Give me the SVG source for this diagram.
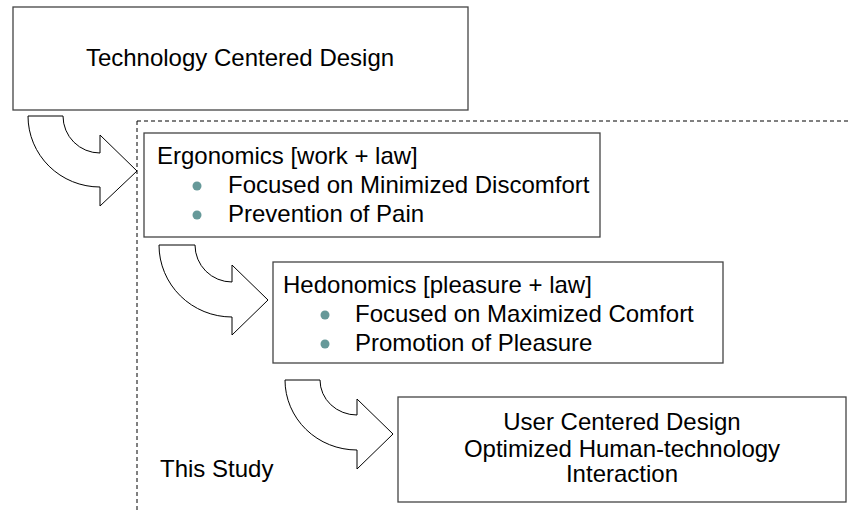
<svg xmlns="http://www.w3.org/2000/svg" width="851" height="512" viewBox="0 0 851 512">
<style>
.box{fill:#fff;stroke:#444;stroke-width:1.3}
.arr{fill:#fff;stroke:#000;stroke-width:1}
.t{font-family:"Liberation Sans",Arial,sans-serif;font-size:24px;fill:#000}
.c{text-anchor:middle}
.dot{fill:#669999}
.dash{fill:none;stroke:#000;stroke-width:1;stroke-dasharray:4 3}
</style>
<rect width="851" height="512" fill="#fff"/>
<g id="study-frame">
<path class="dash" d="M137,121 H851 M137,121 V512"/>
<text class="t" x="160" y="477">This Study</text>
</g>
<g id="tcd">
<rect class="box" x="13" y="7" width="455" height="103"/>
<text class="t c" x="240" y="66">Technology Centered Design</text>
</g>
<g id="ergonomics">
<rect class="box" x="144" y="133" width="456" height="104"/>
<text class="t" x="157" y="164">Ergonomics [work + law]</text>
<circle class="dot" cx="197" cy="186" r="4.5"/>
<text class="t" x="228" y="193">Focused on Minimized Discomfort</text>
<circle class="dot" cx="197" cy="215" r="4.5"/>
<text class="t" x="228" y="222">Prevention of Pain</text>
</g>
<g id="hedonomics">
<rect class="box" x="273" y="262" width="450" height="101"/>
<text class="t" x="283" y="293">Hedonomics [pleasure + law]</text>
<circle class="dot" cx="325" cy="315" r="4.5"/>
<text class="t" x="355" y="322">Focused on Maximized Comfort</text>
<circle class="dot" cx="325" cy="344" r="4.5"/>
<text class="t" x="355" y="351">Promotion of Pleasure</text>
</g>
<g id="ucd">
<rect class="box" x="398" y="397" width="448" height="105"/>
<text class="t c" x="622" y="430">User Centered Design</text>
<text class="t c" x="622" y="457">Optimized Human-technology</text>
<text class="t c" x="622" y="482">Interaction</text>
</g>
<g id="connectors">
<path class="arr" d="M28,116 L63,116 A37,37 0 0 0 100,153 L100,135 L137,171 L100,206 L100,187 A72,71 0 0 1 28,116 Z"/>
<path class="arr" d="M159,245 L195,245 A37,37 0 0 0 232,282 L232,265 L268,300 L232,335 L232,317 A73,72 0 0 1 159,245 Z"/>
<path class="arr" d="M285,380 L320,380 A37,35 0 0 0 357,415 L357,399 L393,434 L357,469 L357,450 A72,70 0 0 1 285,380 Z"/>
</g>
</svg>
